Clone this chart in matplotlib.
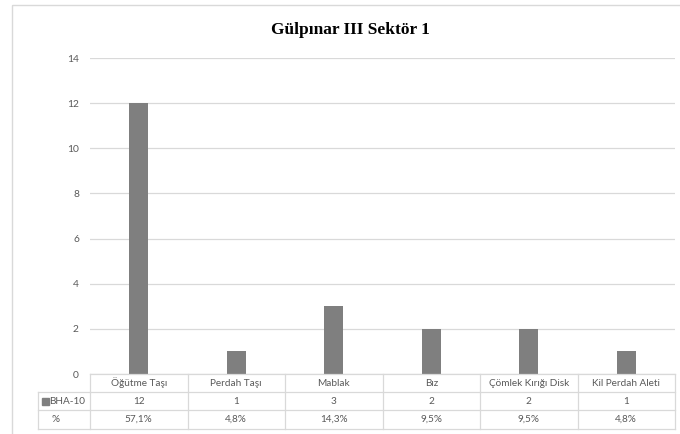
import matplotlib
matplotlib.use("Agg")
import matplotlib.pyplot as plt
from matplotlib.patches import Rectangle

categories = ["Öğütme Taşı", "Perdah Taşı", "Mablak", "Bız", "Çömlek Kırığı Disk", "Kil Perdah Aleti"]
series_name = "BHA-10"
values = [12, 1, 3, 2, 2, 1]
percents = ["57,1%", "4,8%", "14,3%", "9,5%", "9,5%", "4,8%"]
yticks = [0, 2, 4, 6, 8, 10, 12, 14]
title = "Gülpınar III Sektör 1"

W, H = 680, 434
fig = plt.figure(figsize=(W / 100, H / 100), dpi=100)
fig.patch.set_facecolor("white")

# outer chart frame
fig.patches.append(Rectangle((12 / W, 1 - 5 / H), 1.0, -1.2, transform=fig.transFigure,
                             fill=False, edgecolor="#d9d9d9", linewidth=1.0))

txt = "#595959"
grid = "#d9d9d9"
font = ["Lato", "DejaVu Sans"]

x0, x1 = 90, 675
y_top, y_bot = 58, 374
ax = fig.add_axes([x0 / W, 1 - y_bot / H, (x1 - x0) / W, (y_bot - y_top) / H])
n = len(categories)
xs = list(range(n))
ax.bar(xs, values, width=0.19, color="#7f7f7f", zorder=3)
ax.set_xlim(-0.5, n - 0.5)
ax.set_ylim(0, 14)
ax.set_yticks(yticks)
ax.set_yticklabels([str(v) for v in yticks], fontsize=7.4, color=txt, family=font)
ax.tick_params(axis="y", length=0, pad=8)
ax.set_xticks([])
for s in ax.spines.values():
    s.set_visible(False)
ax.grid(axis="y", color=grid, linewidth=0.9, zorder=0)
ax.set_axisbelow(True)

fig.text(350 / W, 1 - 30 / H, title, ha="center", va="center",
         fontsize=12.5, fontweight="bold", family="Liberation Serif", color="black")

# data table
tx0 = 38
row_y = [374, 392, 410, 429]
col_x = [tx0] + [x0 + i * (x1 - x0) / n for i in range(n + 1)]
lc = grid
lw = 0.9

def fx(px):
    return px / W

def fy(py):
    return 1 - py / H

# horizontal lines
for i, ry in enumerate(row_y):
    start = x0 if i == 0 else tx0
    fig.add_artist(plt.Line2D([fx(start), fx(x1)], [fy(ry), fy(ry)], color=lc, lw=lw))
# vertical lines
for j, cx in enumerate(col_x):
    top = row_y[1] if j == 0 else row_y[0]
    fig.add_artist(plt.Line2D([fx(cx), fx(cx)], [fy(top), fy(row_y[-1])], color=lc, lw=lw))

fs = 7.2
for i, c in enumerate(categories):
    cx = 0.5 * (col_x[i + 1] + col_x[i + 2])
    fig.text(fx(cx), fy(0.5 * (row_y[0] + row_y[1])), c, ha="center", va="center",
             fontsize=fs, color=txt, family=font)
    fig.text(fx(cx), fy(0.5 * (row_y[1] + row_y[2])), str(values[i]), ha="center", va="center",
             fontsize=fs, color=txt, family=font)
    fig.text(fx(cx), fy(0.5 * (row_y[2] + row_y[3])), percents[i], ha="center", va="center",
             fontsize=fs, color=txt, family=font)

# row labels
ym = 0.5 * (row_y[1] + row_y[2])
fig.patches.append(Rectangle((fx(42), fy(ym + 3.5)), 7 / W, 7 / H, transform=fig.transFigure,
                             color="#7f7f7f"))
fig.text(fx(49), fy(ym), series_name, ha="left", va="center", fontsize=fs, color=txt, family=font)
fig.text(fx(56), fy(0.5 * (row_y[2] + row_y[3])), "%", ha="center",
         va="center", fontsize=fs, color=txt, family=font)

fig.savefig("out.png", dpi=100)
